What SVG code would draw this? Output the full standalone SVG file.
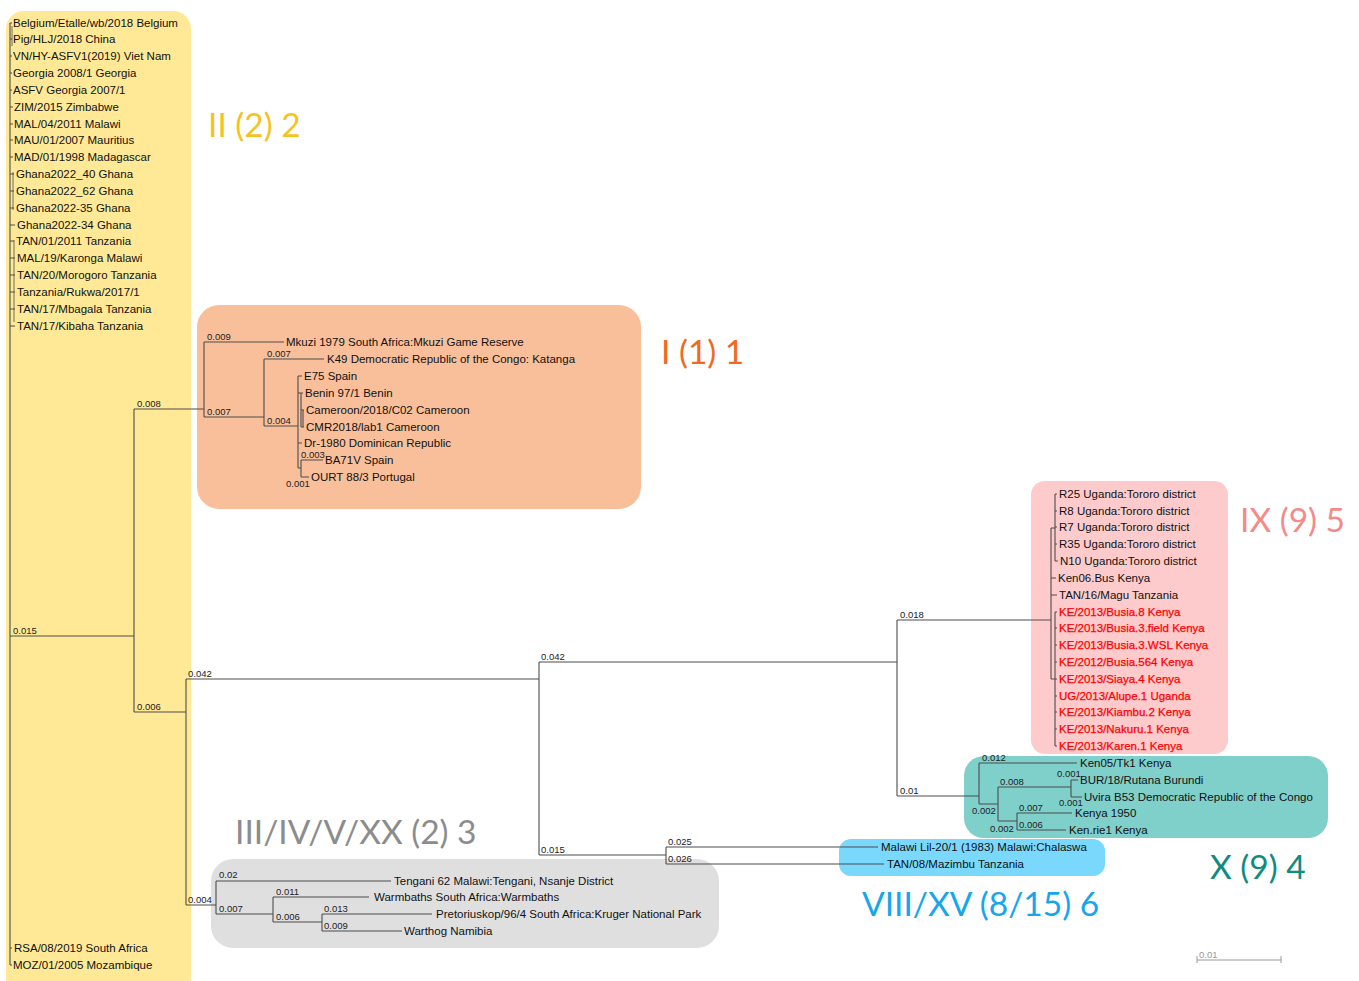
<svg xmlns="http://www.w3.org/2000/svg" width="1359" height="981" viewBox="0 0 1359 981">
<style>
.lf{font-family:"Liberation Sans",Arial,sans-serif;font-size:11.5px;fill:#111}
.rd{fill:#f00;stroke:#f00;stroke-width:0.25}
.bl{font-family:"Liberation Sans",Arial,sans-serif;font-size:9.5px;fill:#222}
.br{fill:none;stroke:#4d4d4d;stroke-width:1.1}
.cl{font-family:Lato,"Open Sans",sans-serif;font-size:33.5px}
</style>
<rect width="1359" height="981" fill="#fff"/>
<g id="clade-boxes">
<rect id="box-II" x="6" y="11" width="185" height="985" rx="18" fill="#FFE996"/>
<rect id="box-I" x="197" y="305" width="444" height="204" rx="22" fill="#F9BF9B"/>
<rect id="box-IX" x="1031" y="481" width="197" height="273" rx="14" fill="#FECBCC"/>
<rect id="box-X" x="964" y="756" width="364" height="82" rx="20" fill="#7FCFCA"/>
<rect id="box-VIII" x="839" y="839" width="266" height="37" rx="12" fill="#79D8FC"/>
<rect id="box-III" x="211" y="859" width="508" height="89" rx="22" fill="#DFDFDF"/>
</g>
<g id="connectors" class="br">
<path d="M10,23V965M10,23H12M10,39H12M10,56H12M10,73H12M10,90H12M10,107H13M10,124H13M10,140H13M10,157H13M10,174H14M10,191H14M10,208H14M10,225H15M10,241H14M10,258H15M10,275H15M10,292H15M10,309H15M10,326H15M10,948H12M10,965H12"/>
<path d="M12,26V46M13,172V210M14,240V322" stroke-width="0.8"/>
<path d="M10,636H134M134,409V712M134,409H204M204,342V417M204,342H284M204,417H264M264,359V426M264,359H324M264,426H298M298,376V468M298,376H302M298,393H303M301,393V427M301,410H304M303,410V427M301,427H304M298,443H302M298,468H301M301,460V477M301,460H323M301,477H309"/>
<path d="M134,712H186M186,679V905M186,679H539M186,905H216M216,881V914M216,881H391M216,914H273M273,897V922M273,897H369M273,922H322M322,914V931M322,914H432M322,931H402"/>
<path d="M539,662V855M539,662H897M539,855H666M666,847V864M666,847H878M666,864H884"/>
<path d="M897,620V796M897,620H1051M897,796H979"/>
<path d="M1051,528V679M1051,528H1055M1055,494V561M1055,494H1057M1055,511H1057M1055,527H1057M1055,544H1057M1055,561H1058M1051,578H1056M1051,595H1057M1051,679H1055M1055,612V746M1055,612H1057M1055,628H1057M1055,645H1057M1055,662H1057M1055,679H1057M1055,696H1057M1055,712H1057M1055,729H1057M1055,746H1057"/>
<path d="M979,763V804M979,763H1077M979,804H998M998,787V821M998,787H1071M998,821H1017M1071,780V797M1071,780H1078M1071,797H1082M1017,813V830M1017,813H1072M1017,830H1066"/>
</g>
<g id="branch-labels" class="bl">
<text x="13" y="634">0.015</text>
<text x="137" y="407">0.008</text>
<text x="137" y="710">0.006</text>
<text x="207" y="340">0.009</text>
<text x="207" y="415">0.007</text>
<text x="267" y="357">0.007</text>
<text x="267" y="424">0.004</text>
<text x="301" y="458">0.003</text>
<text x="286" y="487">0.001</text>
<text x="188" y="677">0.042</text>
<text x="188" y="903">0.004</text>
<text x="219" y="878">0.02</text>
<text x="219" y="912">0.007</text>
<text x="276" y="895">0.011</text>
<text x="276" y="920">0.006</text>
<text x="324" y="912">0.013</text>
<text x="324" y="929">0.009</text>
<text x="541" y="660">0.042</text>
<text x="541" y="853">0.015</text>
<text x="668" y="845">0.025</text>
<text x="668" y="862">0.026</text>
<text x="900" y="618">0.018</text>
<text x="900" y="794">0.01</text>
<text x="982" y="761">0.012</text>
<text x="972" y="814">0.002</text>
<text x="1000" y="785">0.008</text>
<text x="1057" y="777">0.001</text>
<text x="1059" y="806">0.001</text>
<text x="1019" y="811">0.007</text>
<text x="990" y="832">0.002</text>
<text x="1019" y="828">0.006</text>
</g>
<g id="node-II" class="lf">
<text x="13" y="27">Belgium/Etalle/wb/2018 Belgium</text>
<text x="13" y="43">Pig/HLJ/2018 China</text>
<text x="13" y="60">VN/HY-ASFV1(2019) Viet Nam</text>
<text x="13" y="77">Georgia 2008/1 Georgia</text>
<text x="13" y="94">ASFV Georgia 2007/1</text>
<text x="14" y="111">ZIM/2015 Zimbabwe</text>
<text x="14" y="128">MAL/04/2011 Malawi</text>
<text x="14" y="144">MAU/01/2007 Mauritius</text>
<text x="14" y="161">MAD/01/1998 Madagascar</text>
<text x="16" y="178">Ghana2022_40 Ghana</text>
<text x="16" y="195">Ghana2022_62 Ghana</text>
<text x="16" y="212">Ghana2022-35 Ghana</text>
<text x="17" y="229">Ghana2022-34 Ghana</text>
<text x="16" y="245">TAN/01/2011 Tanzania</text>
<text x="17" y="262">MAL/19/Karonga Malawi</text>
<text x="17" y="279">TAN/20/Morogoro Tanzania</text>
<text x="17" y="296">Tanzania/Rukwa/2017/1</text>
<text x="17" y="313">TAN/17/Mbagala Tanzania</text>
<text x="17" y="330">TAN/17/Kibaha Tanzania</text>
<text x="14" y="952">RSA/08/2019 South Africa</text>
<text x="13" y="969">MOZ/01/2005 Mozambique</text>
</g>
<g id="node-I" class="lf">
<text x="286" y="346">Mkuzi 1979 South Africa:Mkuzi Game Reserve</text>
<text x="327" y="363">K49 Democratic Republic of the Congo: Katanga</text>
<text x="304" y="380">E75 Spain</text>
<text x="305" y="397">Benin 97/1 Benin</text>
<text x="306" y="414">Cameroon/2018/C02 Cameroon</text>
<text x="306" y="431">CMR2018/lab1 Cameroon</text>
<text x="304" y="447">Dr-1980 Dominican Republic</text>
<text x="325" y="464">BA71V Spain</text>
<text x="311" y="481">OURT 88/3 Portugal</text>
</g>
<g id="node-IX" class="lf">
<text x="1059" y="498">R25 Uganda:Tororo district</text>
<text x="1059" y="515">R8 Uganda:Tororo district</text>
<text x="1059" y="531">R7 Uganda:Tororo district</text>
<text x="1059" y="548">R35 Uganda:Tororo district</text>
<text x="1060" y="565">N10 Uganda:Tororo district</text>
<text x="1058" y="582">Ken06.Bus Kenya</text>
<text x="1059" y="599">TAN/16/Magu Tanzania</text>
<text class="lf rd" x="1059" y="616">KE/2013/Busia.8 Kenya</text>
<text class="lf rd" x="1059" y="632">KE/2013/Busia.3.field Kenya</text>
<text class="lf rd" x="1059" y="649">KE/2013/Busia.3.WSL Kenya</text>
<text class="lf rd" x="1059" y="666">KE/2012/Busia.564 Kenya</text>
<text class="lf rd" x="1059" y="683">KE/2013/Siaya.4 Kenya</text>
<text class="lf rd" x="1059" y="700">UG/2013/Alupe.1 Uganda</text>
<text class="lf rd" x="1059" y="716">KE/2013/Kiambu.2 Kenya</text>
<text class="lf rd" x="1059" y="733">KE/2013/Nakuru.1 Kenya</text>
<text class="lf rd" x="1059" y="750">KE/2013/Karen.1 Kenya</text>
</g>
<g id="node-X" class="lf">
<text x="1080" y="767">Ken05/Tk1 Kenya</text>
<text x="1080" y="784">BUR/18/Rutana Burundi</text>
<text x="1084" y="801">Uvira B53 Democratic Republic of the Congo</text>
<text x="1075" y="817">Kenya 1950</text>
<text x="1069" y="834">Ken.rie1 Kenya</text>
</g>
<g id="node-VIII" class="lf">
<text x="881" y="851">Malawi Lil-20/1 (1983) Malawi:Chalaswa</text>
<text x="887" y="868">TAN/08/Mazimbu Tanzania</text>
</g>
<g id="node-III" class="lf">
<text x="394" y="885">Tengani 62 Malawi:Tengani, Nsanje District</text>
<text x="374" y="901">Warmbaths South Africa:Warmbaths</text>
<text x="436" y="918">Pretoriuskop/96/4 South Africa:Kruger National Park</text>
<text x="404" y="935">Warthog Namibia</text>
</g>
<g id="clade-labels" class="cl">
<text x="208" y="137" fill="#F6C31E">II (2) 2</text>
<text x="661" y="364" fill="#F06A1E">I (1) 1</text>
<text x="1240" y="532" fill="#F48A8A">IX (9) 5</text>
<text x="1210" y="879" fill="#0E8C80">X (9) 4</text>
<text x="862" y="916" fill="#16A6EE">VIII/XV (8/15) 6</text>
<text x="235" y="844" fill="#8C8C8C">III/IV/V/XX (2) 3</text>
</g>
<g id="scale-bar">
<path d="M1197,960H1281M1197,956V963M1281,956V963" fill="none" stroke="#9a9a9a" stroke-width="1"/>
<text x="1199" y="958" class="bl" style="fill:#9a9a9a">0.01</text>
</g>
</svg>
